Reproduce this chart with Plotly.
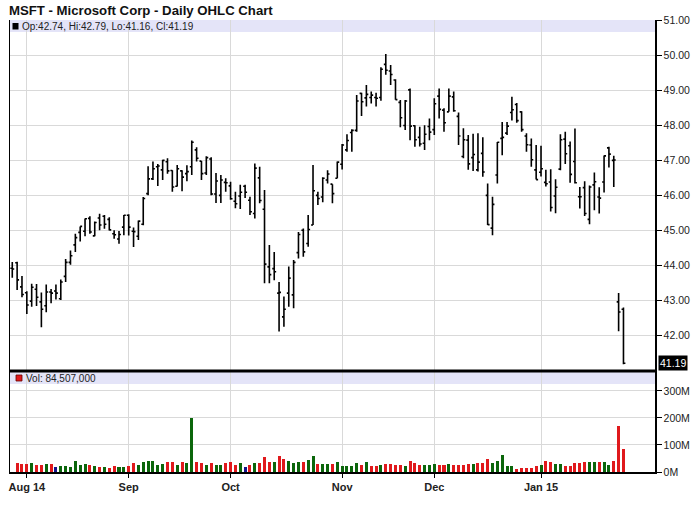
import plotly.graph_objects as go

# ---------------- data ----------------
dates = [
    "2014-07-29", "2014-07-30", "2014-07-31",
    "2014-08-01", "2014-08-04", "2014-08-05", "2014-08-06", "2014-08-07", "2014-08-08",
    "2014-08-11", "2014-08-12", "2014-08-13", "2014-08-14", "2014-08-15",
    "2014-08-18", "2014-08-19", "2014-08-20", "2014-08-21", "2014-08-22",
    "2014-08-25", "2014-08-26", "2014-08-27", "2014-08-28", "2014-08-29",
    "2014-09-02", "2014-09-03", "2014-09-04", "2014-09-05",
    "2014-09-08", "2014-09-09", "2014-09-10", "2014-09-11", "2014-09-12",
    "2014-09-15", "2014-09-16", "2014-09-17", "2014-09-18", "2014-09-19",
    "2014-09-22", "2014-09-23", "2014-09-24", "2014-09-25", "2014-09-26",
    "2014-09-29", "2014-09-30",
    "2014-10-01", "2014-10-02", "2014-10-03",
    "2014-10-06", "2014-10-07", "2014-10-08", "2014-10-09", "2014-10-10",
    "2014-10-13", "2014-10-14", "2014-10-15", "2014-10-16", "2014-10-17",
    "2014-10-20", "2014-10-21", "2014-10-22", "2014-10-23", "2014-10-24",
    "2014-10-27", "2014-10-28", "2014-10-29", "2014-10-30", "2014-10-31",
    "2014-11-03", "2014-11-04", "2014-11-05", "2014-11-06", "2014-11-07",
    "2014-11-10", "2014-11-11", "2014-11-12", "2014-11-13", "2014-11-14",
    "2014-11-17", "2014-11-18", "2014-11-19", "2014-11-20", "2014-11-21",
    "2014-11-24", "2014-11-25", "2014-11-26", "2014-11-28",
    "2014-12-01", "2014-12-02", "2014-12-03", "2014-12-04", "2014-12-05",
    "2014-12-08", "2014-12-09", "2014-12-10", "2014-12-11", "2014-12-12",
    "2014-12-15", "2014-12-16", "2014-12-17", "2014-12-18", "2014-12-19",
    "2014-12-22", "2014-12-23", "2014-12-24", "2014-12-26",
    "2014-12-29", "2014-12-30", "2014-12-31",
    "2015-01-02", "2015-01-05", "2015-01-06", "2015-01-07", "2015-01-08", "2015-01-09",
    "2015-01-12", "2015-01-13", "2015-01-14", "2015-01-15", "2015-01-16",
    "2015-01-20", "2015-01-21", "2015-01-22", "2015-01-23",
    "2015-01-26", "2015-01-27", "2015-01-28",
]

opens = [
    43.91, 44.07, 43.38,
    43.21, 42.97, 43.31, 42.95, 42.84, 43.23,
    43.26, 43.04, 43.68, 44.08, 44.58,
    44.94, 44.97, 45.34, 44.84, 45.35,
    45.40, 45.31, 44.90, 44.75, 45.09,
    45.43, 44.97, 44.83, 45.17,
    46.05, 46.47, 46.82, 46.73, 46.96,
    46.71, 46.26, 46.70, 46.62, 46.82,
    47.30, 46.98, 46.64, 47.04, 46.04,
    46.00, 46.37,
    46.27, 45.83, 45.98,
    46.26, 45.86, 45.48, 46.50, 45.60,
    43.95, 43.90, 43.20, 42.52, 43.20,
    43.15, 44.36, 45.00, 44.62, 45.15,
    46.00, 45.95, 46.44, 46.32, 46.49,
    46.89, 47.30, 47.80, 47.86, 48.92,
    48.79, 48.80, 48.80, 48.80, 49.75,
    49.56, 49.30, 48.66, 48.00, 49.02,
    47.99, 47.66, 47.49, 47.97,
    47.88, 48.84, 48.44, 48.39, 48.82,
    48.26, 47.11, 47.58, 47.08, 46.73,
    47.20, 46.00, 45.06, 46.58, 47.63,
    47.78, 48.37, 48.60, 48.39,
    47.70, 47.44, 46.73,
    46.66, 46.37, 46.38, 45.98, 46.75, 47.61,
    47.42, 46.97, 45.96, 46.22, 45.31,
    46.30, 45.95, 46.38, 47.36,
    47.00, 42.95, 42.74,
]

highs = [
    44.09, 44.10, 43.69,
    43.25, 43.47, 43.46, 43.22, 43.45, 43.32,
    43.45, 43.59, 44.18, 44.42, 44.90,
    45.11, 45.34, 45.40, 45.25, 45.47,
    45.44, 45.37, 45.00, 44.98, 45.44,
    45.46, 45.08, 45.28, 45.95,
    46.83, 46.97, 46.90, 47.02, 47.06,
    46.72, 46.87, 46.72, 46.86, 47.57,
    47.38, 46.98, 47.12, 47.09, 46.64,
    46.58, 46.49,
    46.39, 46.10, 46.30,
    46.30, 45.96, 46.91, 46.82, 46.15,
    44.58, 44.38, 43.52, 43.10, 43.96,
    44.15, 44.95, 45.05, 45.44, 46.87,
    46.10, 46.52, 46.72, 46.32, 46.97,
    47.47, 47.75, 47.89, 48.87, 48.94,
    49.16, 48.97, 48.94, 49.67, 50.05,
    49.73, 49.32, 48.73, 48.73, 49.06,
    48.01, 47.96, 48.01, 48.20,
    48.78, 49.06, 48.49, 49.06, 48.97,
    48.37, 47.92, 47.73, 47.76, 47.78,
    47.66, 46.34, 45.96, 47.53, 48.10,
    48.10, 48.82, 48.64, 48.41,
    47.78, 47.63, 47.44,
    47.42, 46.73, 46.75, 46.46, 47.75, 47.82,
    47.54, 47.91, 46.24, 46.40, 46.28,
    46.65, 46.23, 47.14, 47.39,
    47.13, 43.20, 42.79,
]

lows = [
    43.64, 43.29, 43.08,
    42.60, 42.81, 42.83, 42.22, 42.65, 42.91,
    43.02, 43.00, 43.52, 44.01, 44.38,
    44.68, 44.83, 44.90, 44.83, 45.00,
    45.04, 44.99, 44.76, 44.61, 44.86,
    44.85, 44.52, 44.72, 45.14,
    46.00, 46.44, 46.27, 46.44, 46.62,
    46.10, 46.25, 46.12, 46.40, 46.58,
    46.97, 46.44, 46.58, 46.00, 45.78,
    45.78, 46.10,
    45.87, 45.63, 45.61,
    45.92, 45.44, 45.34, 45.77, 43.48,
    43.48, 43.57, 42.10, 42.24, 42.81,
    42.77, 44.19, 44.24, 44.53, 45.15,
    45.72, 45.80, 46.34, 45.77, 46.49,
    46.74, 47.25, 47.25, 47.82, 48.27,
    48.54, 48.63, 48.54, 48.71, 49.45,
    49.16, 48.74, 47.95, 47.87, 47.58,
    47.39, 47.40, 47.30, 47.58,
    47.73, 48.20, 47.82, 48.39, 48.39,
    47.44, 47.06, 46.73, 46.70, 46.68,
    46.53, 45.15, 44.86, 46.34, 47.15,
    47.73, 48.14, 48.08, 47.82,
    47.25, 46.82, 46.45,
    46.54, 46.25, 45.54, 45.49, 46.72, 46.90,
    46.36, 46.34, 45.62, 45.41, 45.17,
    45.57, 45.48, 46.08, 46.80,
    46.24, 42.11, 41.16,
]

closes = [
    43.89, 43.58, 43.16,
    42.86, 43.37, 43.08, 42.74, 43.23, 43.20,
    43.20, 43.52, 44.08, 44.27, 44.79,
    45.11, 45.33, 44.95, 45.22, 45.15,
    45.17, 45.01, 44.87, 44.88, 45.43,
    45.09, 44.96, 45.26, 45.91,
    46.47, 46.76, 46.84, 47.00, 46.70,
    46.24, 46.76, 46.52, 46.68, 47.52,
    47.06, 46.62, 47.08, 46.04, 46.41,
    46.44, 46.36,
    45.90, 45.76, 46.09,
    46.09, 45.53, 46.78, 45.85, 44.03,
    43.73, 43.81, 43.22, 42.74, 43.63,
    44.08, 44.88, 44.38, 45.02, 46.13,
    45.91, 46.49, 46.61, 46.05, 46.95,
    47.44, 47.57, 47.86, 48.70, 48.68,
    48.89, 48.87, 48.78, 49.61, 49.58,
    49.46, 48.74, 48.22, 48.70, 47.98,
    47.59, 47.47, 47.75, 47.81,
    48.62, 48.46, 48.08, 48.84, 48.42,
    47.70, 47.59, 46.90, 47.17, 46.95,
    46.67, 45.16, 45.74, 47.52, 47.66,
    47.98, 48.45, 48.14, 47.88,
    47.45, 47.02, 46.45,
    46.76, 46.33, 45.65, 46.23, 47.59, 47.19,
    46.60, 46.36, 45.96, 45.48, 46.24,
    46.39, 45.92, 47.13, 47.18,
    47.01, 42.66, 41.19,
]

# daily volume in millions of shares (from 2014-07-30 onward)
volume_m = [
    34, 31, 30, 34, 27, 27, 30, 30, 19, 22,
    22, 19, 40, 27, 30, 26, 21, 18, 18, 15,
    21, 19, 19, 21, 34, 27, 36, 42, 40, 27,
    30, 37, 37, 27, 37, 34, 201, 37, 34, 26,
    34, 27, 27, 34, 37, 27, 32, 19, 27, 34,
    34, 54, 37, 37, 61, 50, 40, 34, 37, 36,
    45, 61, 30, 30, 30, 30, 37, 22, 22, 22,
    34, 27, 37, 22, 22, 27, 30, 30, 25, 25,
    22, 40, 34, 27, 26, 26, 30, 26, 25, 30,
    26, 26, 25, 30, 30, 34, 32, 49, 34, 41,
    62, 24, 21, 11, 15, 15, 15, 21, 26, 41,
    36, 30, 30, 24, 24, 34, 32, 36, 37, 37,
    37, 37, 27, 41, 169, 84.507,
]

month_tick_dates = ["2014-08-01", "2014-09-02", "2014-10-01",
                    "2014-11-03", "2014-12-01", "2015-01-02"]
month_tick_labels = ["Aug 14", "Sep", "Oct", "Nov", "Dec", "Jan 15"]
price_ticks = [42, 43, 44, 45, 46, 47, 48, 49, 50, 51]
volume_ticks = [0, 100, 200, 300]
volume_tick_labels = ["0M", "100M", "200M", "300M"]
title_text = "MSFT - Microsoft Corp - Daily OHLC Chart"

# ---------------- figure ----------------
FONT = "Liberation Sans"
GRID = "#d9d9d9"
BAND = "#e4e4f8"

W, H = 700, 512
ML, MR, MT, MB = 10, 45, 20, 40
PLOT_W = W - ML - MR          # 645
PLOT_H = H - MT - MB          # 452
PRICE_H = 351                 # price panel height in px
VOL_H = PLOT_H - PRICE_H      # 101

vol_dates = dates[1:]
vol_colors = []
for i in range(1, len(closes)):
    if closes[i] > closes[i - 1]:
        vol_colors.append("#0b660b")
    elif closes[i] < closes[i - 1]:
        vol_colors.append("#e0191c")
    else:
        vol_colors.append("#14148a")

fig = go.Figure()
fig.add_trace(go.Ohlc(
    x=dates, open=opens, high=highs, low=lows, close=closes,
    xaxis="x", yaxis="y",
    increasing=dict(line=dict(color="black", width=1.6)),
    decreasing=dict(line=dict(color="black", width=1.6)),
    tickwidth=0.4, hoverinfo="skip",
))
fig.add_trace(go.Bar(
    x=vol_dates, y=volume_m, xaxis="x", yaxis="y2",
    marker=dict(color=vol_colors, line=dict(width=0)),
    width=0.62, hoverinfo="skip",
))

split = VOL_H / float(PLOT_H)

axis_common = dict(
    side="right", showgrid=True, gridcolor=GRID, gridwidth=1,
    ticks="outside", ticklen=5, tickcolor="black", tickwidth=1,
    showline=True, mirror=True, linecolor="black", linewidth=1.5,
    zeroline=False, tickfont=dict(family=FONT, size=10.5, color="#222"),
    anchor="x", fixedrange=True, automargin=False,
)

fig.update_layout(
    width=W, height=H,
    margin=dict(l=ML, r=MR, t=MT, b=MB, autoexpand=False),
    paper_bgcolor="white", plot_bgcolor="white",
    showlegend=False, bargap=0,
    xaxis=dict(
        type="category", range=[-0.47, 132.5],
        tickvals=month_tick_dates,
        ticktext=["<b>%s</b>" % t for t in month_tick_labels],
        showgrid=True, gridcolor=GRID, gridwidth=1,
        ticks="outside", ticklen=4, tickcolor="black",
        showline=True, linecolor="black", linewidth=1.5,
        anchor="y2", rangeslider=dict(visible=False),
        tickfont=dict(family=FONT, size=11, color="#222"),
        fixedrange=True, automargin=False,
    ),
    yaxis=dict(
        domain=[split, 1], range=[40.97, 51.02],
        tickvals=price_ticks, ticktext=["%.2f" % v for v in price_ticks],
        **axis_common,
    ),
    yaxis2=dict(
        domain=[0, split], range=[0, 374],
        tickvals=volume_ticks, ticktext=volume_tick_labels,
        **axis_common,
    ),
)

def xd(px):
    # page x pixel -> x-domain fraction (plot left edge at page x=10)
    return (px - ML) / float(PLOT_W)

shapes = [
    # legend bands
    dict(type="rect", xref="x domain", yref="y domain", x0=0, x1=1,
         y0=1 - 12 / float(PRICE_H), y1=1, fillcolor=BAND, line=dict(width=0), layer="below"),
    dict(type="rect", xref="x domain", yref="y2 domain", x0=0, x1=1,
         y0=1 - 13 / float(VOL_H), y1=1, fillcolor=BAND, line=dict(width=0), layer="below"),
    # squares
    dict(type="rect", xref="x domain", yref="y domain", x0=xd(12.5), x1=xd(18.5),
         y0=1 - 9.5 / float(PRICE_H), y1=1 - 3 / float(PRICE_H), fillcolor="black", line=dict(width=0)),
    dict(type="rect", xref="x domain", yref="y2 domain", x0=xd(16), x1=xd(22),
         y0=1 - 10 / float(VOL_H), y1=1 - 4 / float(VOL_H), fillcolor="#e0191c",
         line=dict(color="#600", width=0.8)),
    # thick separator
    dict(type="line", xref="paper", yref="paper", x0=0, x1=1, y0=split, y1=split,
         line=dict(color="black", width=3)),
]

last_vol = int(round(volume_m[-1] * 1e6))
annotations = [
    dict(text="<b>%s</b>" % title_text, xref="paper", yref="paper",
         x=xd(7), y=1 + 10 / float(PLOT_H), xanchor="left", yanchor="middle",
         showarrow=False, font=dict(family=FONT, size=13.2, color="#111")),
    dict(text="Op:%.2f, Hi:%.2f, Lo:%.2f, Cl:%.2f" % (opens[-1], highs[-1], lows[-1], closes[-1]),
         xref="x domain", yref="y domain", x=xd(20), y=1 - 6.5 / float(PRICE_H),
         xanchor="left", yanchor="middle", showarrow=False,
         font=dict(family=FONT, size=10, color="#222")),
    dict(text="Vol: {:,}".format(last_vol),
         xref="x domain", yref="y2 domain", x=xd(24), y=1 - 7 / float(VOL_H),
         xanchor="left", yanchor="middle", showarrow=False,
         font=dict(family=FONT, size=10, color="#222")),
    dict(text="%.2f" % closes[-1], xref="paper", yref="y", x=1, y=closes[-1],
         xanchor="left", yanchor="middle", xshift=3, showarrow=False,
         bgcolor="black", borderpad=1,
         font=dict(family=FONT, size=10.5, color="white")),
]

fig.update_layout(shapes=shapes, annotations=annotations)
# remove the browser's default 8px body margin so the figure fills the window
fig.write_html("out.html",
               config={"displayModeBar": False, "staticPlot": True},
               post_script="document.body.style.margin='0';"
                           "document.body.style.overflow='hidden';")
